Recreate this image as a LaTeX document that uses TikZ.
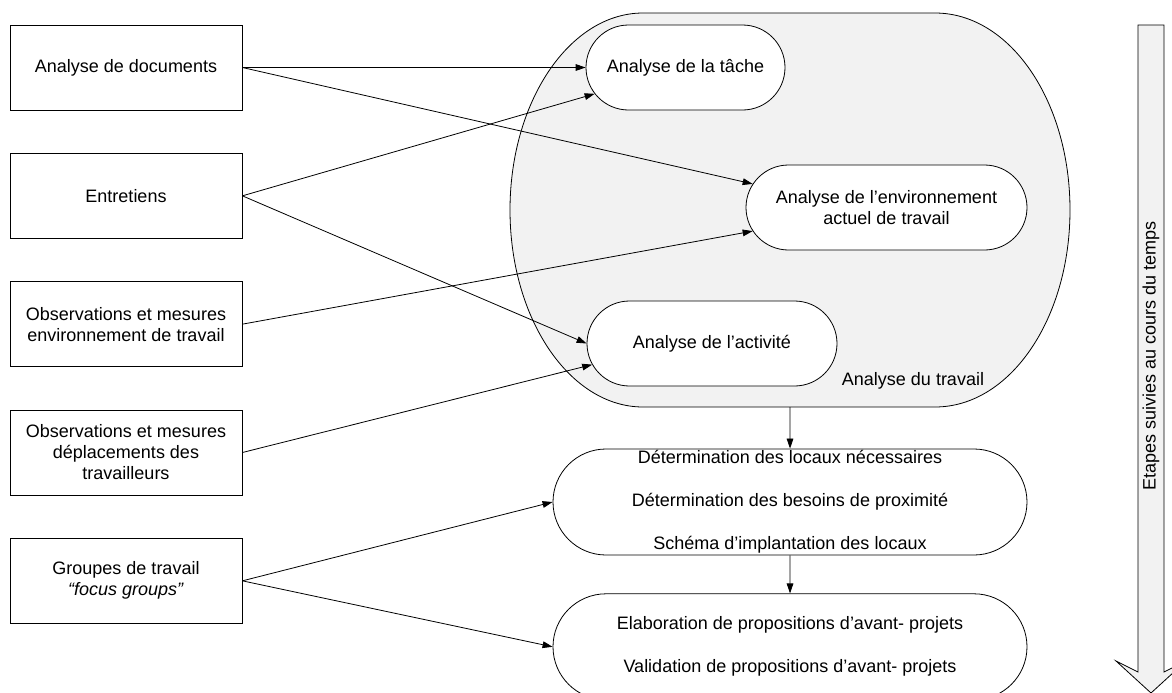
\documentclass[tikz,border=0pt]{standalone}
\usepackage{fontspec}
\setmainfont{Liberation Sans}
\usetikzlibrary{shapes.misc, arrows.meta, positioning}

\begin{document}
\begin{tikzpicture}[
    x=0.75pt, y=-0.75pt,
    source/.style={rectangle, draw, line width=0.6pt, minimum width=174pt, minimum height=63.75pt, align=center, font=\fontsize{13.5}{15.75}\selectfont},
    phase/.style={rounded rectangle, draw, line width=0.6pt, fill=white, minimum height=63.75pt, inner xsep=-30pt, align=center, font=\fontsize{13.5}{15.75}\selectfont},
    stage/.style={rounded rectangle, draw, line width=0.6pt, fill=white, minimum width=295.5pt, minimum height=79.5pt, inner xsep=-30pt, inner ysep=0pt, align=center, font=\fontsize{13.5}{32.25}\selectfont},
    arrow/.style={-{Triangle[length=7.5pt, width=5pt]}, line width=0.6pt},
    node distance=31.9pt
]
    \useasboundingbox (0,0) rectangle (1172,693);

    % Analyse du travail (shaded area)
    \draw[line width=0.6pt, fill=black!5] (643,13) -- (935,13)
        .. controls (1010,13) and (1070,101) .. (1070,210)
        .. controls (1070,319) and (1010,407) .. (935,407) -- (643,407)
        .. controls (570,407) and (510,319) .. (510,210)
        .. controls (510,101) and (570,13) .. (643,13) -- cycle;
    \node[font=\fontsize{13.5}{15.75}\selectfont] (travail) at (913,381) {Analyse du travail};
    \coordinate (travail-out) at (790,407);

    % Sources
    \node[source] (docs) at (126,67.5) {Analyse de documents};
    \node[source, below=of docs] (entretiens) {Entretiens};
    \node[source, below=of entretiens] (obsenv) {Observations et mesures\\environnement de travail};
    \node[source, below=of obsenv] (obsdepl) {Observations et mesures\\déplacements des\\travailleurs};
    \node[source, below=of obsdepl] (groupes) {Groupes de travail\\\textit{“focus groups”}};

    % Analyses
    \node[phase, minimum width=89.25pt] (tache) at (685.5,67.5) {Analyse de la tâche};
    \node[phase, minimum width=150.75pt] (env) at (886.5,207.5) {Analyse de l’environnement\\actuel de travail};
    \node[phase, minimum width=127.5pt] (activite) at (712,343.5) {Analyse de l’activité};

    % Stages
    \node[stage] (determ) at (790,502) {Détermination des locaux nécessaires\\Détermination des besoins de proximité\\Schéma d’implantation des locaux};
    \node[stage, below=28.5pt of determ] (elab) {Elaboration de propositions d’avant- projets\\Validation de propositions d’avant- projets};

    % Time arrow
    \draw[line width=0.6pt, fill=black!5] (1138,25) -- (1164,25) -- (1164,672) -- (1186,661)
        -- (1151,693) -- (1116,661) -- (1138,672) -- cycle;
    \node[rotate=90, font=\fontsize{13.5}{15.75}\selectfont] (temps) at (1151,356) {Etapes suivies au cours du temps};

    % Arrows
    \draw[arrow] (docs) -- (tache);
    \draw[arrow] (docs.east) -- (env.170);
    \draw[arrow] (entretiens.east) -- (tache);
    \draw[arrow] (entretiens.east) -- (activite.west);
    \draw[arrow] (obsenv.east) -- (env.190);
    \draw[arrow] (obsdepl.east) -- (activite.190);
    \draw[arrow] (groupes.east) -- (determ.west);
    \draw[arrow] (groupes.east) -- (elab.west);
    \draw[arrow] (travail-out) -- (determ);
    \draw[arrow] (determ) -- (elab);
\end{tikzpicture}
\end{document}
